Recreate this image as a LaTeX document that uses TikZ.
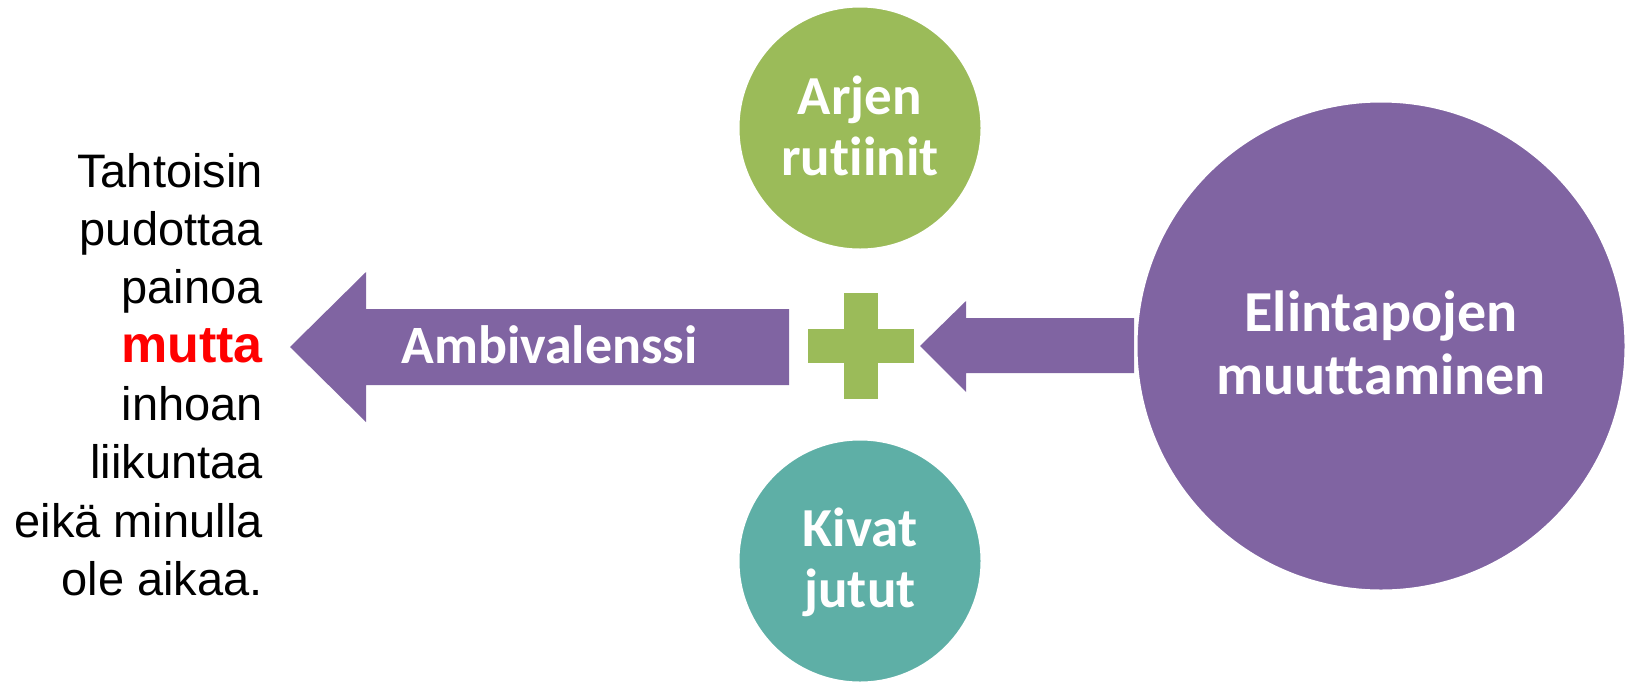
\documentclass[tikz,border=0pt]{standalone}
\usepackage{fontspec}
\setmainfont{Liberation Sans}
\newfontfamily\carlito[Ligatures={NoCommon,NoRare,NoContextual}]{Carlito}
\definecolor{purp}{HTML}{8064A2}
\definecolor{grn}{HTML}{9BBB59}
\definecolor{teal2}{HTML}{5EAFA6}
\begin{document}
\begin{tikzpicture}[x=1pt,y=-1pt,
  bubble/.style={circle, inner sep=0pt, draw=white, line width=2pt},
  lbl/.style={text=white, inner sep=0pt, align=center, font=\carlito\bfseries\fontsize{55}{61}\selectfont},
  biglbl/.style={lbl, font=\carlito\bfseries\fontsize{58}{63}\selectfont},
  shapefill/.style={fill=purp, draw=none}]
\useasboundingbox (0,0) rectangle (1626,681);
% left arrow
\fill[shapefill] (290,347) -- (366,272) -- (366,309) -- (789,309) -- (789,385) -- (366,385) -- (366,422) -- cycle;
\node[lbl, font=\carlito\bfseries\fontsize{54}{62}\selectfont, anchor=base] (amb) at (549.5,363) {Ambivalenssi};
% plus
\fill[grn] (808,329) rectangle (914,363);
\fill[grn] (844,293) rectangle (878,399);
% right arrow
\fill[shapefill] (920,346) -- (966,301) -- (966,318) -- (1134,318) -- (1134,373) -- (966,373) -- (966,392) -- cycle;
% circles
\node[bubble, fill=grn, minimum size=243pt] (arjen) at (860,128) {};
\node[lbl] (arjent) at (860,126) {Arjen\\rutiinit};
\node[bubble, fill=teal2, minimum size=243pt] (kivat) at (860,561) {};
\node[lbl] (kivatt) at (860,562) {Kivat\\jutut};
\node[bubble, fill=purp, minimum size=490pt, line width=3pt] (elin) at (1381,346) {};
\node[biglbl] (elint) at (1381,343) {Elintapojen\\muuttaminen};
% left text
\node[anchor=north east, inner sep=0pt, align=right, font=\fontsize{47}{58.3}\selectfont] (txt) at (263,153)
 {Tahtoisin\\pudottaa\\painoa\\{\fontsize{52}{58.3}\selectfont\bfseries\color{red}mutta}\\inhoan\\liikuntaa\\eikä minulla\\ole aikaa.};
\end{tikzpicture}
\end{document}
